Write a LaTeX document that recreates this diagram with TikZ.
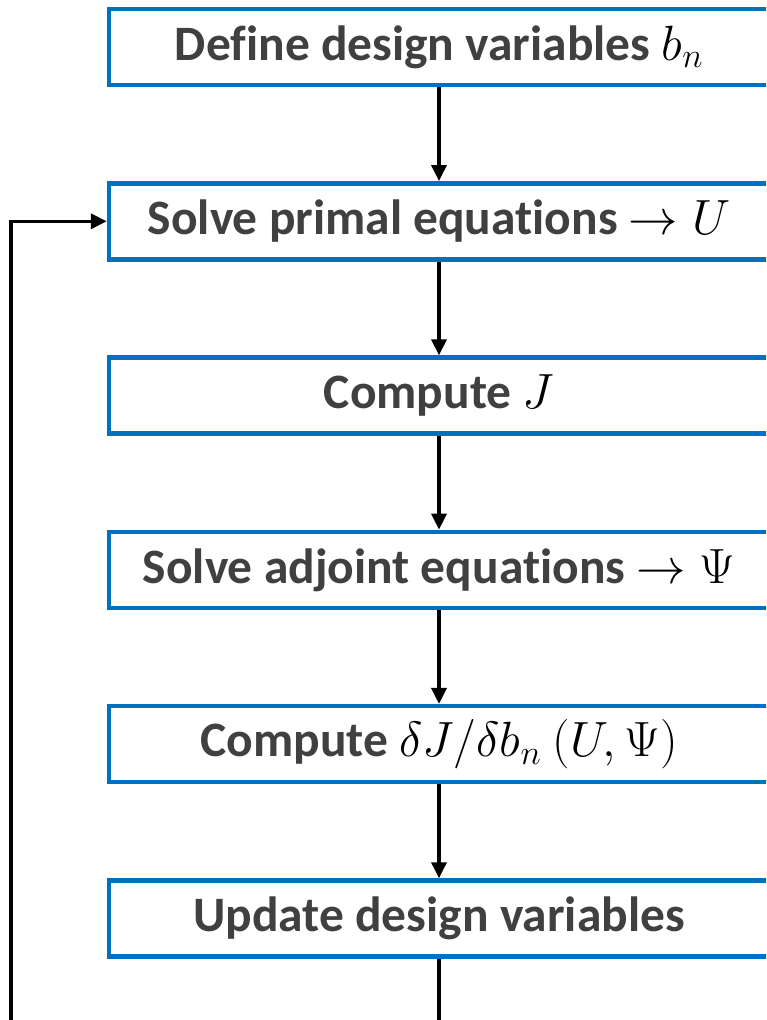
\documentclass[tikz,border=0pt]{standalone}
\usepackage{fix-cm}
\usepackage{fontspec}
\setmainfont[Ligatures=NoCommon]{Carlito}
\usetikzlibrary{arrows.meta}
\definecolor{boxblue}{HTML}{0070C0}
\definecolor{txtgray}{HTML}{404040}
\begin{document}
\begin{tikzpicture}[x=1pt,y=-1pt,
  stepbox/.style={draw=boxblue, line width=4.5pt, minimum width=660pt, minimum height=76pt,
    inner sep=0pt, font=\fontsize{49.5}{54}\selectfont\bfseries, text=txtgray, fill=white},
  flow/.style={line width=3.5pt, -{Triangle[length=16pt,width=15pt]}},
  plain/.style={line width=3.5pt},
  ]
\useasboundingbox (0,0) rectangle (766,1020);
\clip (0,0) rectangle (766,1020);
\node[stepbox] (b1) at (439,47)    {Define design variables \textcolor{black}{$b_n$}};
\node[stepbox] (b2) at (439,221.3) {Solve primal equations \textcolor{black}{$\rightarrow U$}};
\node[stepbox] (b3) at (439,395.6) {Compute \textcolor{black}{$J$}};
\node[stepbox] (b4) at (439,569.9) {Solve adjoint equations \textcolor{black}{$\rightarrow \Psi$}};
\node[stepbox] (b5) at (439,744.2) {Compute \textcolor{black}{$\delta J/\delta b_n\ (U,\Psi)$}};
\node[stepbox] (b6) at (439,918.5) {Update design variables};
\draw[flow] (b1) -- (b2);
\draw[flow] (b2) -- (b3);
\draw[flow] (b3) -- (b4);
\draw[flow] (b4) -- (b5);
\draw[flow] (b5) -- (b6);
\coordinate (ob) at (439,1025);
\coordinate (lb) at (11,1025);
\draw[plain] (b6) -- (ob);
\draw[flow] (lb) |- (b2.west);
\end{tikzpicture}
\end{document}
